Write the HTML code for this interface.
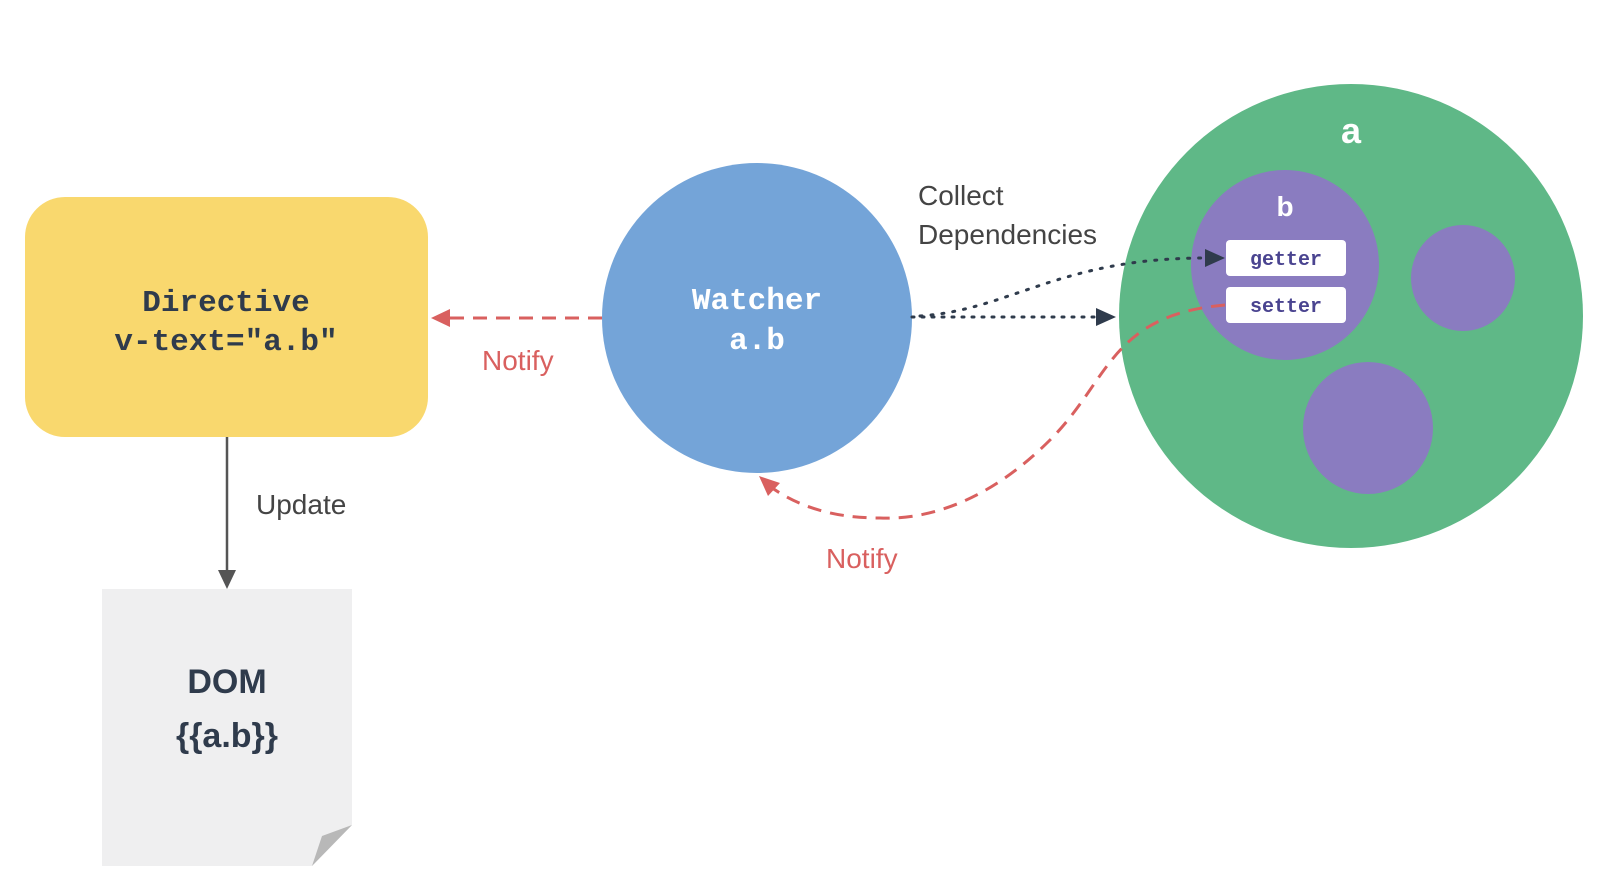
<!DOCTYPE html>
<html><head><meta charset="utf-8"><style>html,body{margin:0;padding:0;background:#fff;}svg{display:block}</style></head>
<body>
<svg width="1598" height="882" viewBox="0 0 1598 882" xmlns="http://www.w3.org/2000/svg">
<defs>
<marker id="ar" markerWidth="10" markerHeight="10" refX="8" refY="5" orient="auto" markerUnits="userSpaceOnUse"><path d="M0,0 L14,5 L0,10 z" fill="#d9605f"/></marker>
</defs>
<!-- Directive -->
<rect x="25" y="197" width="403" height="240" rx="40" fill="#f9d86e"/>
<text x="226" y="311" text-anchor="middle" font-family="Liberation Mono, monospace" font-weight="bold" font-size="31" fill="#2f3b4c">Directive</text>
<text x="226" y="350" text-anchor="middle" font-family="Liberation Mono, monospace" font-weight="bold" font-size="31" fill="#2f3b4c">v-text="a.b"</text>
<!-- Update -->
<line x1="227" y1="437" x2="227" y2="572" stroke="#555" stroke-width="2.5"/>
<path d="M218,570 L236,570 L227,589 z" fill="#555"/>
<text x="256" y="514" font-family="Liberation Sans, sans-serif" font-size="28" fill="#444">Update</text>
<!-- DOM -->
<path d="M102,589 L352,589 L352,825 L312,866 L102,866 z" fill="#efeff0"/>
<path d="M352,825 L312,866 L322,836 z" fill="#b8b8b8"/>
<text x="227" y="693" text-anchor="middle" font-family="Liberation Sans, sans-serif" font-weight="bold" font-size="34" fill="#2f3b4c">DOM</text>
<text x="227" y="747" text-anchor="middle" font-family="Liberation Sans, sans-serif" font-weight="bold" font-size="34" fill="#2f3b4c">{{a.b}}</text>
<!-- Watcher -->
<circle cx="757" cy="318" r="155" fill="#74a4d8"/>
<text x="757" y="309" text-anchor="middle" font-family="Liberation Mono, monospace" font-weight="bold" font-size="31" fill="#fff">Watcher</text>
<text x="757" y="349" text-anchor="middle" font-family="Liberation Mono, monospace" font-weight="bold" font-size="31" fill="#fff">a.b</text>
<!-- Notify left -->
<line x1="602" y1="318" x2="446" y2="318" stroke="#d9605f" stroke-width="3" stroke-dasharray="14,9"/>
<path d="M450,309 L450,327 L431,318 z" fill="#d9605f"/>
<text x="482" y="370" font-family="Liberation Sans, sans-serif" font-size="28" fill="#d9605f">Notify</text>
<!-- green a -->
<circle cx="1351" cy="316" r="232" fill="#5fb887"/>
<text x="1351" y="143" text-anchor="middle" font-family="Liberation Sans, sans-serif" font-weight="bold" font-size="36" fill="#fff">a</text>
<ellipse cx="1285" cy="265" rx="94" ry="95" fill="#8a7cc0"/>
<ellipse cx="1463" cy="278" rx="52" ry="53" fill="#8a7cc0"/>
<ellipse cx="1368" cy="428" rx="65" ry="66" fill="#8a7cc0"/>
<text x="1285" y="216" text-anchor="middle" font-family="Liberation Sans, sans-serif" font-weight="bold" font-size="28" fill="#fff">b</text>
<rect x="1226" y="240" width="120" height="36" rx="4" fill="#fff"/>
<rect x="1226" y="287" width="120" height="36" rx="4" fill="#fff"/>
<text x="1286" y="265" text-anchor="middle" font-family="Liberation Mono, monospace" font-weight="bold" font-size="20" fill="#4a4490">getter</text>
<text x="1286" y="312" text-anchor="middle" font-family="Liberation Mono, monospace" font-weight="bold" font-size="20" fill="#4a4490">setter</text>
<!-- Collect -->
<text x="918" y="205" font-family="Liberation Sans, sans-serif" font-size="28" fill="#444">Collect</text>
<text x="918" y="244" font-family="Liberation Sans, sans-serif" font-size="28" fill="#444">Dependencies</text>
<line x1="912" y1="317" x2="1098" y2="317" stroke="#2f3b4c" stroke-width="3" stroke-dasharray="2,8" stroke-linecap="round"/>
<path d="M1096,308 L1096,326 L1116,317 z" fill="#2f3b4c"/>
<path d="M920,316 C1010,310 1060,258 1205,258" fill="none" stroke="#2f3b4c" stroke-width="3" stroke-dasharray="2,9" stroke-linecap="round"/>
<path d="M1205,249 L1205,267 L1225,258 z" fill="#2f3b4c"/>
<!-- Notify curve -->
<path d="M1225,305 C1110,315 1110,380 1050,440 C990,500 930,520 880,518 C830,518 795,505 768,485" fill="none" stroke="#d9605f" stroke-width="3" stroke-dasharray="14,9"/>
<path d="M759,476 L780,483 L768,496 z" fill="#d9605f"/>
<text x="826" y="568" font-family="Liberation Sans, sans-serif" font-size="28" fill="#d9605f">Notify</text>
</svg>
</body></html>
